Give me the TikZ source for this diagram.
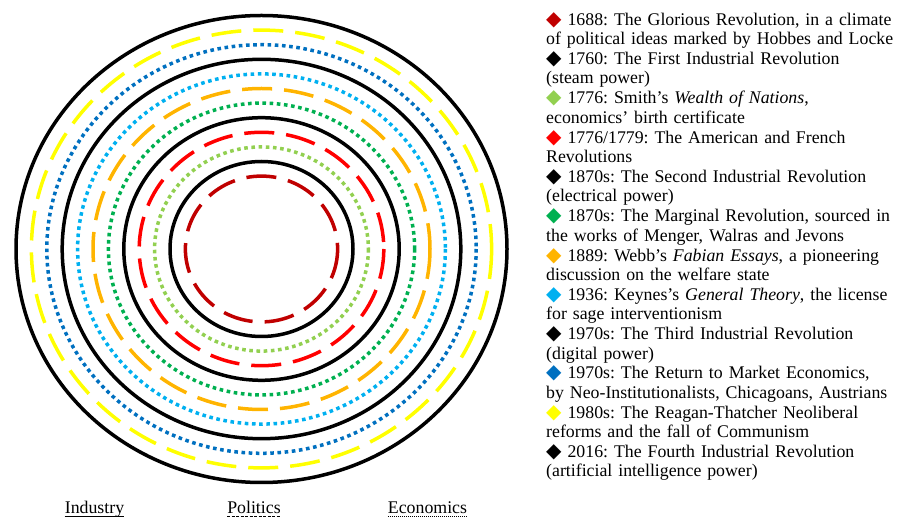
\documentclass[tikz,border=0pt]{standalone}
\usepackage{fontspec}
\setmainfont{Liberation Serif}
\newfontfamily\dejavu{DejaVu Sans}
\usetikzlibrary{positioning}
\definecolor{rojoOscuro}{HTML}{C00000}
\definecolor{rojo}{HTML}{FF0000}
\definecolor{verdeClaro}{HTML}{92D050}
\definecolor{verde}{HTML}{00B050}
\definecolor{naranja}{HTML}{FFB400}
\definecolor{celeste}{HTML}{00B0F0}
\definecolor{azulOscuro}{HTML}{0070C0}
\definecolor{amarillo}{HTML}{FFFF00}
\newcommand{\rombo}[1]{\smash{\color{#1}\dejavu\fontsize{20}{20}\selectfont ◆}\hspace{6pt}}

\begin{document}
\begin{tikzpicture}[x=1pt, y=-1pt,
        node distance=0pt,
        ring/.style={line width=3.5pt},
        rsolid/.style={ring},
        rdash/.style={ring, dash pattern=on 30pt off 12pt},
        rdot/.style={ring, dash pattern=on 3.6pt off 3.6pt},
        l/.style={text width=350pt, align=left, inner sep=0pt, font=\fontsize{17.8}{19.45}\selectfont\frenchspacing},
        etq/.style={inner sep=0pt, font=\fontsize{17.8}{19.45}\selectfont},
        sub/.style={line width=0.9pt}
    ]
        \useasboundingbox (0,0) rectangle (898,518);
        \foreach \k/\st/\col in {0/rsolid/black, 1/rdash/amarillo, 2/rdot/azulOscuro, 3/rsolid/black,
                4/rdot/celeste, 5/rdash/naranja, 6/rdot/verde, 7/rsolid/black,
                8/rdash/rojo, 9/rdot/verdeClaro, 10/rsolid/black, 11/rdash/rojoOscuro}
            \draw[\st, draw=\col] (261.5,249) ellipse [x radius={245.5-15.4*\k}, y radius={233.5-14.6*\k}];
        \node[l, anchor=north west] (e1) at (546,11.4) {\strut\rombo{rojoOscuro}1688: The Glorious Revolution, in a climate\\of political ideas marked by Hobbes and Locke\strut};
        \node[l, below=of e1.south west, anchor=north west] (e2) {\strut\rombo{black}1760: The First Industrial Revolution\\(steam power)\strut};
        \node[l, below=of e2.south west, anchor=north west] (e3) {\strut\rombo{verdeClaro}1776: Smith’s \textit{Wealth of Nations},\\economics’ birth certificate\strut};
        \node[l, below=of e3.south west, anchor=north west] (e4) {\strut\rombo{rojo}1776/1779: The American and French\\Revolutions\strut};
        \node[l, below=of e4.south west, anchor=north west] (e5) {\strut\rombo{black}1870s: The Second Industrial Revolution\\(electrical power)\strut};
        \node[l, below=of e5.south west, anchor=north west] (e6) {\strut\rombo{verde}1870s: The Marginal Revolution, sourced in\\the works of Menger, Walras and Jevons\strut};
        \node[l, below=of e6.south west, anchor=north west] (e7) {\strut\rombo{naranja}1889: Webb’s \textit{Fabian Essays}, a pioneering\\discussion on the welfare state\strut};
        \node[l, below=of e7.south west, anchor=north west] (e8) {\strut\rombo{celeste}1936: Keynes’s \textit{General Theory}, the license\\for sage interventionism\strut};
        \node[l, below=of e8.south west, anchor=north west] (e9) {\strut\rombo{black}1970s: The Third Industrial Revolution\\(digital power)\strut};
        \node[l, below=of e9.south west, anchor=north west] (e10) {\strut\rombo{azulOscuro}1970s: The Return to Market Economics,\\by Neo-Institutionalists, Chicagoans, Austrians\strut};
        \node[l, below=of e10.south west, anchor=north west] (e11) {\strut\rombo{amarillo}1980s: The Reagan-Thatcher Neoliberal\\reforms and the fall of Communism\strut};
        \node[l, below=of e11.south west, anchor=north west] (e12) {\strut\rombo{black}2016: The Fourth Industrial Revolution\\(artificial intelligence power)\strut};
        \node[etq, anchor=base] (ind) at (94.5,514) {Industry};
        \node[etq, anchor=base] (pol) at (254,514) {Politics};
        \node[etq, anchor=base] (eco) at (427.5,514) {Economics};
        \draw[sub] ([yshift=-2pt]ind.base west) -- ([yshift=-2pt]ind.base east);
        \draw[sub, dash pattern=on 3pt off 1.5pt] ([yshift=-2pt]pol.base west) -- ([yshift=-2pt]pol.base east);
        \draw[sub, dash pattern=on 1pt off 1pt] ([yshift=-2pt]eco.base west) -- ([yshift=-2pt]eco.base east);
    \end{tikzpicture}
\end{document}
